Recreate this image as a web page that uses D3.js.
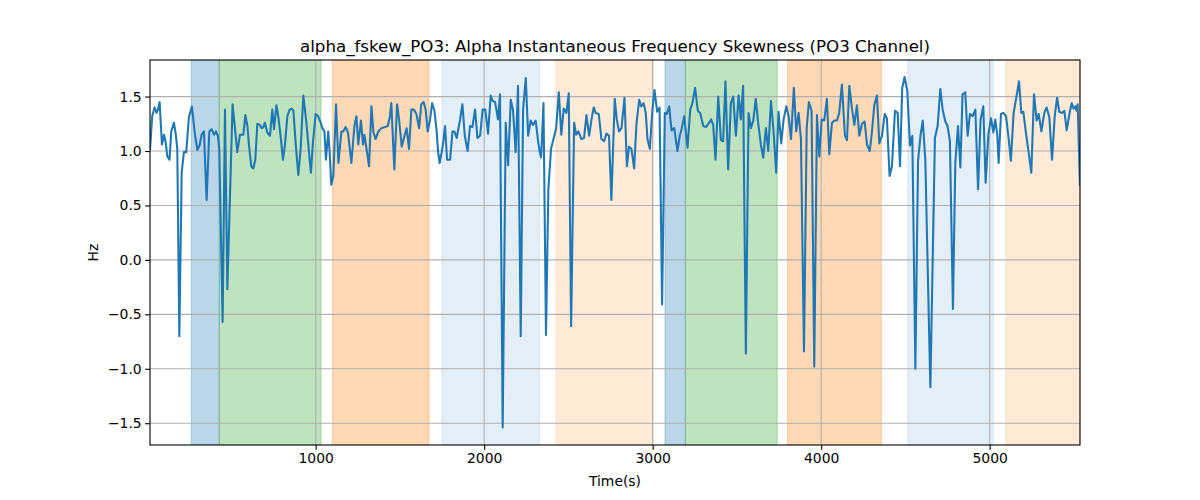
<!DOCTYPE html>
<html>
<head>
<meta charset="utf-8">
<script src="https://cdn.jsdelivr.net/npm/d3@7"></script>
<style>
  html, body { margin: 0; padding: 0; background: #fff; }
  svg { display: block; }
  text { font-family: "DejaVu Sans", sans-serif; fill: #000; }
</style>
</head>
<body>
<svg id="chart" width="1200" height="500"></svg>
<script>
const titleText = "alpha_fskew_PO3: Alpha Instantaneous Frequency Skewness (PO3 Channel)";
const xLabel = "Time(s)";
const yLabel = "Hz";

const times = [
  17,30,44,56,64,74,88,100,110,120,133,143,159,171,179,191,205,218,232,248,266,282,298,311,323,337,353,369,383,397,408,420,428,448,462,476,507,535,551,571,583,595,604,618,630,642,654,668,680,690,699,713,729,743,753,767,779,792,806,818,832,846,858,868,882,897,911,927,
  945,957,972,984,1000,1014,1030,1040,1052,1061,1075,1083,1093,1105,1121,1135,1153,1164,1178,1192,1212,1230,1242,1253,1269,1281,1289,1301,1317,1331,1343,1356,1372,1390,1412,1428,1440,1449,1467,1483,1495,1511,1529,1540,1554,1568,1584,1598,1614,1627,1641,1653,1665,1679,1691,1705,1717,1727,1736,1748,1758,1768,1780,1798,1812,1823,1837,
  1857,1871,1885,1902,1916,1930,1946,1960,1976,1991,2007,2023,2039,2051,2065,2082,2094,2110,2128,2142,2158,2171,2187,2201,2217,2231,2247,2261,2276,2290,2306,2320,2330,2338,2352,2367,2381,2397,2413,2427,2443,2458,2472,2488,2502,2516,2534,2546,2559,2577,2593,2607,2623,2637,2650,2662,2680,2696,2712,2726,2741,2755,
  2775,2787,2801,2815,2833,2847,2860,2874,2890,2904,2920,2932,2946,2959,2969,2983,2999,3011,3027,3041,3056,3072,3084,3098,3112,3128,3147,3161,3173,3187,3207,3223,3236,3252,3268,3282,3300,3316,3335,3347,3359,3373,3389,3405,3418,3432,3448,3464,3478,3494,3510,3523,3537,3553,3569,3583,3597,3612,3626,3642,3656,3672,3686,3702,
  3718,3733,3747,3763,3777,3793,3807,3821,3838,3852,3866,3880,3898,3914,3927,3943,3959,3975,3989,4003,4018,4034,4048,4064,4078,4094,4107,4123,4141,4153,4167,4181,4197,4212,4226,4242,4258,4272,4288,4301,4315,4331,4345,4361,4377,4390,4406,4420,4438,4454,4468,4481,4495,4511,4527,4541,4559,4575,4590,4603,
  4618,4648,4675,4691,4707,4721,4737,4750,4764,4782,4796,4812,4826,4839,4855,4869,4883,4899,4915,4931,4946,4962,4976,4992,5008,5022,5033,5045,5053,5067,5081,5097,5113,5126,5142,5158,5174,5188,5200,5215,5231,5247,5263,5279,5291,5307,5324,5338,5354,5370,5386,5400,5413,5429,5443,5457,5473,5487,5498,5508,5516,5522,5536
];
const values = [
  1.01,1.32,1.40,1.35,1.38,1.45,1.06,1.15,1.08,0.95,0.92,1.18,1.26,1.14,1.02,-0.70,0.80,0.99,0.99,1.31,1.41,1.17,1.01,1.05,1.15,1.18,0.55,1.18,1.20,1.15,1.18,1.14,1.02,-0.57,1.38,-0.27,1.43,0.99,1.15,1.15,1.33,1.23,1.06,0.86,0.84,0.92,1.25,1.24,1.21,1.22,1.26,1.17,1.14,1.38,1.20,1.42,1.31,1.14,0.92,1.06,1.32,1.38,1.39,1.37,1.06,0.78,1.02,1.51,
  1.26,1.05,0.80,1.08,1.34,1.32,1.26,1.21,1.18,0.92,1.18,0.99,0.69,0.77,1.43,0.89,1.18,1.18,1.22,1.17,0.89,1.23,1.32,1.06,1.28,1.06,1.15,1.03,0.86,1.41,1.17,1.11,1.18,1.21,1.22,1.23,1.31,1.44,0.83,1.43,1.29,1.04,1.15,1.21,1.02,1.38,1.38,1.34,1.21,1.43,1.45,1.38,1.18,1.29,1.44,1.37,1.20,0.99,0.89,0.99,1.09,1.23,0.92,0.92,1.18,1.18,1.12,
  1.29,1.43,1.14,1.00,1.23,1.22,1.38,1.12,1.14,1.38,1.38,1.16,1.51,1.46,1.45,1.29,1.52,-1.54,1.26,0.87,1.47,1.38,0.99,1.60,-0.70,1.38,1.67,1.14,1.28,1.24,1.28,1.09,0.99,0.94,1.44,-0.69,0.65,1.02,1.12,1.21,1.54,1.15,1.39,1.35,1.53,-0.61,1.26,1.15,1.18,1.11,1.12,1.33,1.14,1.29,1.40,1.35,1.34,1.11,1.09,1.16,1.14,0.55,
  1.48,1.29,1.18,1.21,1.49,0.86,1.04,1.02,0.84,1.25,1.47,1.41,1.44,1.35,1.11,1.02,1.38,1.56,1.36,1.40,-0.41,1.35,1.34,1.41,1.19,1.21,1.00,1.14,1.21,1.32,1.03,1.38,1.44,1.58,1.37,1.35,1.23,1.22,1.26,1.29,1.24,0.92,1.50,1.10,1.09,1.64,0.83,1.44,1.50,1.14,1.51,1.29,1.60,-0.86,1.35,1.21,1.28,1.48,1.26,1.06,0.94,1.21,1.00,1.46,
  1.17,0.80,1.36,1.07,1.29,1.41,1.32,1.11,1.58,1.18,1.35,1.11,-0.84,1.21,1.45,1.37,-0.98,1.33,0.95,1.29,1.28,1.48,0.97,1.26,1.28,1.28,1.35,1.61,1.14,1.10,1.60,1.41,1.24,1.42,1.14,1.25,1.27,1.06,1.00,1.17,1.42,1.51,1.07,1.14,1.34,1.30,0.77,0.86,1.37,1.35,0.86,1.58,1.68,1.55,1.05,1.14,-1.00,0.91,1.15,1.28,
  0.92,-1.17,1.12,1.23,1.57,1.38,1.27,1.23,1.09,-0.45,0.89,1.23,0.85,1.52,1.54,1.14,1.34,1.32,1.38,0.65,1.29,1.41,0.71,1.15,1.30,1.17,1.29,1.15,0.89,1.34,1.35,1.32,1.11,0.91,1.35,1.49,1.64,1.35,1.36,1.17,0.99,0.80,1.52,1.28,1.34,1.18,1.35,1.40,1.31,0.92,1.32,1.49,1.36,1.35,1.37,1.19,1.34,1.44,1.39,1.41,1.37,1.43,0.68
];

// shaded spans: start, end, colour, opacity
const spanStarts = [262, 428, 1099, 1749, 2426, 3073, 3194, 3800, 4514, 5095];
const spanEnds   = [428, 1032, 1673, 2329, 3004, 3194, 3739, 4357, 5022, 5536];
const spanColors = ["#1f77b4","#2ca02c","#ff7f0e","#1f77b4","#ff7f0e","#1f77b4","#2ca02c","#ff7f0e","#1f77b4","#ff7f0e"];
const spanAlphas = [0.3, 0.3, 0.3, 0.12, 0.16, 0.3, 0.3, 0.3, 0.12, 0.16];

const xTicks = [1000, 2000, 3000, 4000, 5000];
const yTicks = [-1.5, -1.0, -0.5, 0.0, 0.5, 1.0, 1.5];

const margin = {left: 150, top: 60, right: 120, bottom: 55};
const W = 1200, H = 500;
const iw = W - margin.left - margin.right;   // 930
const ih = H - margin.top - margin.bottom;   // 385

const svg = d3.select("#chart");
const g = svg.append("g").attr("transform", `translate(${margin.left},${margin.top})`);

const x = d3.scaleLinear().domain([d3.min(times), d3.max(times)]).range([0, iw]);
const y = d3.scaleLinear().domain([-1.70, 1.836]).range([ih, 0]);

svg.append("defs").append("clipPath").attr("id", "clip")
  .append("rect").attr("width", iw).attr("height", ih);

const data = times.map((t, i) => ({t, v: values[i]}));
const spans = spanStarts.map((s, i) => ({s, e: spanEnds[i], c: spanColors[i], a: spanAlphas[i]}));

// spans
g.append("g").attr("clip-path", "url(#clip)")
  .selectAll("rect").data(spans).join("rect")
  .attr("x", d => x(d.s)).attr("width", d => x(d.e) - x(d.s))
  .attr("y", 0).attr("height", ih)
  .attr("fill", d => d.c).attr("fill-opacity", d => d.a)
  .attr("stroke", d => d.c).attr("stroke-opacity", d => d.a).attr("stroke-width", 1);

// grid
const grid = g.append("g");
grid.selectAll(".gx").data(xTicks).join("line")
  .attr("x1", d => x(d)).attr("x2", d => x(d)).attr("y1", 0).attr("y2", ih)
  .attr("stroke", "#b0b0b0").attr("stroke-width", 1.1);
grid.selectAll(".gy").data(yTicks).join("line")
  .attr("x1", 0).attr("x2", iw).attr("y1", d => y(d)).attr("y2", d => y(d))
  .attr("stroke", "#b0b0b0").attr("stroke-width", 1.1);

// line
const line = d3.line().x(d => x(d.t)).y(d => y(d.v));
g.append("path").datum(data).attr("clip-path", "url(#clip)")
  .attr("d", line).attr("fill", "none")
  .attr("stroke", "#1f77b4").attr("stroke-width", 2.08)
  .attr("stroke-linejoin", "round").attr("stroke-linecap", "butt");

// axes
const fmtY = d => (d < 0 ? "\u2212" : "") + Math.abs(d).toFixed(1);
const xAxis = d3.axisBottom(x).tickValues(xTicks).tickSize(4.86).tickPadding(3.5).tickFormat(d3.format("d"));
const yAxis = d3.axisLeft(y).tickValues(yTicks).tickSize(4.86).tickPadding(3.5).tickFormat(fmtY);

const gx = g.append("g").attr("transform", `translate(0,${ih})`).call(xAxis);
const gy = g.append("g").call(yAxis);
[gx, gy].forEach(a => {
  a.select(".domain").remove();
  a.selectAll(".tick line").attr("stroke", "#000").attr("stroke-width", 1.1);
  a.selectAll(".tick text").attr("font-family", "DejaVu Sans").attr("font-size", "13.9px").attr("fill", "#000");
});

// spines
g.append("rect").attr("x", 0).attr("y", 0).attr("width", iw).attr("height", ih)
  .attr("fill", "none").attr("stroke", "#000").attr("stroke-width", 1.1);

// title & labels
svg.append("text").attr("x", margin.left + iw / 2).attr("y", 52)
  .attr("text-anchor", "middle").attr("font-size", "16.67px").text(titleText);
svg.append("text").attr("x", margin.left + iw / 2).attr("y", 486)
  .attr("text-anchor", "middle").attr("font-size", "13.9px").text(xLabel);
svg.append("text").attr("transform", `translate(98,${margin.top + ih / 2}) rotate(-90)`)
  .attr("text-anchor", "middle").attr("font-size", "13.9px").text(yLabel);
</script>
</body>
</html>
